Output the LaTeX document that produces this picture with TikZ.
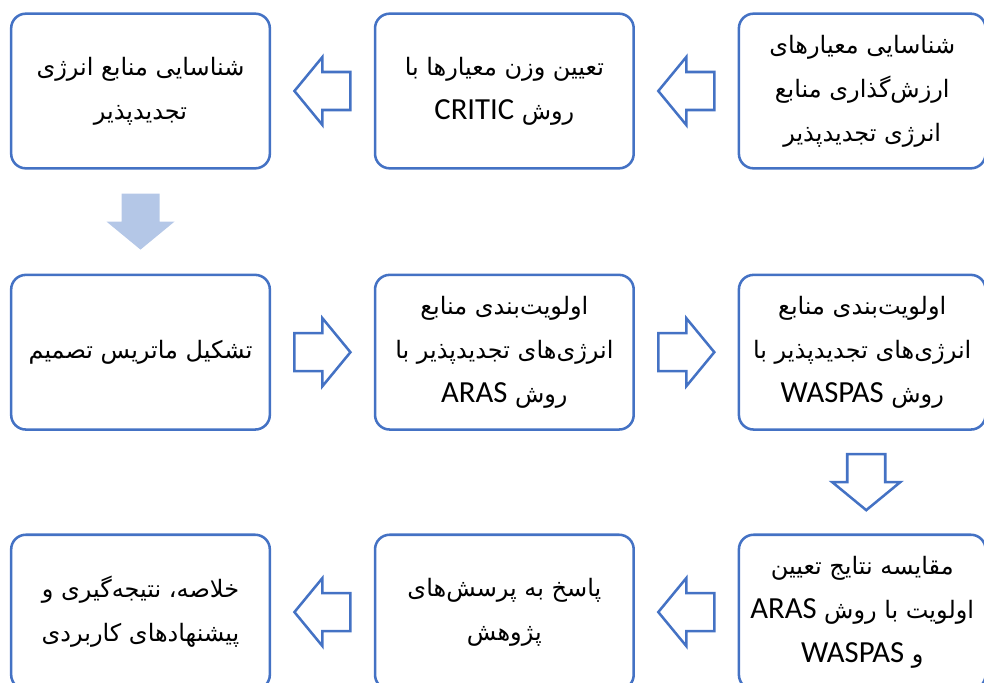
\documentclass[tikz,border=0pt]{standalone}
\usepackage{fontspec}
\setmainfont{Carlito}
\newfontfamily\farsi[Script=Arabic]{DejaVu Sans}
\newfontfamily\latinf{Carlito}
\TeXXeTstate=1
\usetikzlibrary{positioning,calc}

\definecolor{boxblue}{HTML}{4472C4}
\definecolor{arrowfill}{HTML}{B4C7E7}

\newcommand{\fa}[1]{\beginR#1\endR}
\newcommand{\lat}[1]{\beginL{\latinf\fontsize{23}{33}\selectfont #1}\endL}

\tikzset{
  stepbox/.style={draw=boxblue, line width=1.9pt, rounded corners=11pt,
    minimum width=194pt, minimum height=116pt, inner sep=0pt, align=center,
    font=\farsi\fontsize{18}{33}\selectfont},
  outarrow/.style={draw=boxblue, line width=1.9pt, line join=miter},
  fullarrow/.style={fill=arrowfill},
  leftarrow/.pic={
    \path[pic actions] (-28,0) -- (0,-34) -- (0,-19) -- (28,-19)
      -- (28,19) -- (0,19) -- (0,34) -- cycle;
  }
}

\begin{document}
\begin{tikzpicture}[x=0.75pt, y=-0.75pt]
    \useasboundingbox (0,0) rectangle (984,682);

    % first row
    \node[stepbox] (b1) at (140.5,91) {\fa{شناسایی منابع انرژی}\\\fa{تجدیدپذیر}};
    \node[stepbox, right=77pt of b1] (b2) {\fa{تعیین وزن معیارها با}\\\fa{روش \lat{CRITIC}}};
    \node[stepbox, right=77pt of b2, minimum width=185pt] (b3) {\fa{شناسایی معیارهای}\\\fa{ارزش‌گذاری منابع}\\\fa{انرژی تجدیدپذیر}};

    % second row
    \node[stepbox, below=78pt of b1] (c1) {\fa{تشکیل ماتریس تصمیم}};
    \node[stepbox, right=77pt of c1] (c2) {\fa{اولویت‌بندی منابع}\\\fa{انرژی‌های تجدیدپذیر با}\\\fa{روش \lat{ARAS}}};
    \node[stepbox, right=77pt of c2, minimum width=185pt] (c3) {\fa{اولویت‌بندی منابع}\\\fa{انرژی‌های تجدیدپذیر با}\\\fa{روش \lat{WASPAS}}};

    % third row
    \node[stepbox, below=77pt of c1] (d1) {\fa{خلاصه، نتیجه‌گیری و}\\\fa{پیشنهادهای کاربردی}};
    \node[stepbox, right=77pt of d1] (d2) {\fa{پاسخ به پرسش‌های}\\\fa{پژوهش}};
    \node[stepbox, right=77pt of d2, minimum width=185pt] (d3) {\fa{مقایسه نتایج تعیین}\\\fa{اولویت با روش \lat{ARAS}}\\\fa{و \lat{WASPAS}}};

    % block arrows between the steps
    \pic[outarrow] at ($(b3.west)!0.5!(b2.east)$) {leftarrow};
    \pic[outarrow] at ($(b2.west)!0.5!(b1.east)$) {leftarrow};
    \pic[fullarrow, rotate=90] at ($(b1.south)!0.5!(c1.north)$) {leftarrow};
    \pic[outarrow, rotate=180] at ($(c1.east)!0.5!(c2.west)$) {leftarrow};
    \pic[outarrow, rotate=180] at ($(c2.east)!0.5!(c3.west)$) {leftarrow};
    \pic[outarrow, rotate=90] at ($(c3.south)!0.5!(d3.north)+(4,0)$) {leftarrow};
    \pic[outarrow] at ($(d3.west)!0.5!(d2.east)$) {leftarrow};
    \pic[outarrow] at ($(d2.west)!0.5!(d1.east)$) {leftarrow};
\end{tikzpicture}
\end{document}
